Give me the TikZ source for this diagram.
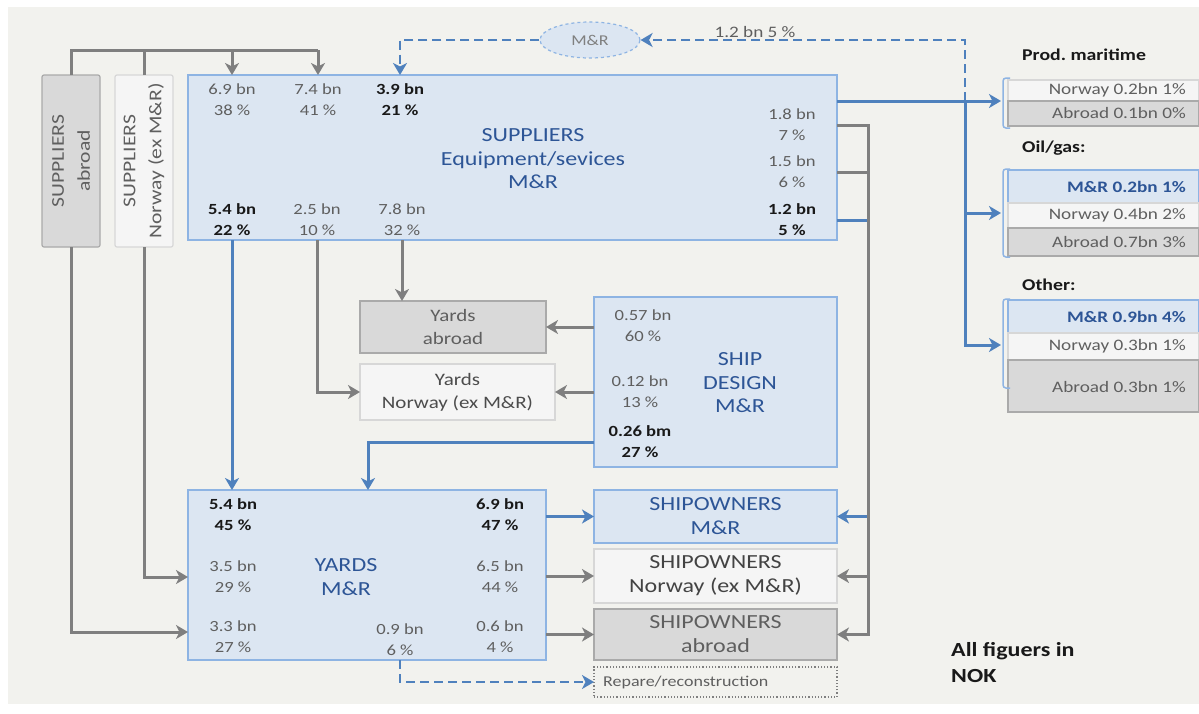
\documentclass[tikz,border=0pt]{standalone}
\usepackage{fontspec}
\setmainfont{Carlito}[FakeStretch=1.2]
\usetikzlibrary{shapes.geometric,arrows.meta}
\definecolor{bgc}{RGB}{242,242,238}
\definecolor{bfill}{RGB}{220,230,242}
\definecolor{bdraw}{RGB}{142,180,227}
\definecolor{bline}{RGB}{79,129,189}
\definecolor{gline}{RGB}{127,127,127}
\definecolor{gfill}{RGB}{217,217,217}
\definecolor{gdraw}{RGB}{170,170,170}
\definecolor{lfill}{RGB}{245,245,245}
\definecolor{ldraw}{RGB}{215,215,215}
\definecolor{tblue}{RGB}{45,85,150}
\definecolor{tgray}{RGB}{95,95,95}
\definecolor{tdark}{RGB}{25,25,25}
\tikzset{
  box/.style={rectangle, inner sep=0pt, outer sep=0pt, anchor=north west, line width=1.2pt},
  bluebox/.style={box, fill=bfill, draw=bdraw},
  graybox/.style={box, fill=gfill, draw=gdraw},
  lightbox/.style={box, fill=lfill, draw=ldraw},
  num/.style={align=center, text=tgray, font=\fontsize{15.5}{21}\selectfont, inner sep=0pt},
  numb/.style={align=center, text=tdark, font=\fontsize{15.5}{21}\selectfont\bfseries, inner sep=0pt},
  ttl/.style={align=center, text=tblue, font=\fontsize{20}{23.5}\selectfont, inner sep=0pt},
  boxtxt/.style={align=center, font=\fontsize{17.5}{23}\selectfont, inner sep=0pt},
  shtxt/.style={align=center, font=\fontsize{20}{24}\selectfont, inner sep=0pt},
  rtxt/.style={anchor=east, text=tgray, font=\fontsize{16}{18}\selectfont, inner sep=0pt},
  rtxtb/.style={anchor=east, text=tblue, font=\fontsize{16}{18}\selectfont\bfseries, inner sep=0pt},
  hdr/.style={anchor=west, text=tdark, font=\fontsize{16.5}{18}\selectfont\bfseries, inner sep=0pt},
  garrow/.style={draw=gline, line width=3pt, -{Stealth[length=12pt,width=14pt,inset=3.5pt]}},
  glin/.style={draw=gline, line width=3pt},
  barrow/.style={draw=bline, line width=3pt, -{Stealth[length=12pt,width=14pt,inset=3.5pt]}},
  blin/.style={draw=bline, line width=3pt},
  bdarrow/.style={draw=bline, line width=2.8pt, dash pattern=on 9pt off 5pt, -{Stealth[length=12pt,width=14pt,inset=3.5pt]}},
  brk/.style={draw=bdraw, line width=1.5pt, rounded corners=3pt},
}
\begin{document}
\begin{tikzpicture}[x=1pt,y=-1pt]
\fill[white] (0,0) rectangle (1199,713);
\fill[bgc] (8,7) rectangle (1199,704);
\useasboundingbox (0,0) rectangle (1199,713);

% suppliers side boxes
\node[graybox, rounded corners=2pt, minimum width=58pt, minimum height=172pt] (sab) at (42,75) {};
\node[rotate=90, boxtxt, font=\fontsize{18}{26}\selectfont, text=tgray] (sabt) at (sab.center) {SUPPLIERS\\abroad};
\node[lightbox, rounded corners=2pt, minimum width=58pt, minimum height=172pt] (snor) at (115,75) {};
\node[rotate=90, boxtxt, font=\fontsize{18}{26}\selectfont, text=tgray] (snort) at (snor.center) {SUPPLIERS\\Norway (ex M\&R)};

% suppliers main box
\node[bluebox, minimum width=649pt, minimum height=165pt] (sup) at (188,75) {};
\node[num] (s1) at (232,100) {6.9 bn\\38 \%};
\node[num] (s2) at (318,100) {7.4 bn\\41 \%};
\node[numb] (s3) at (400,100) {3.9 bn\\21 \%};
\node[ttl] (supt) at (533,159) {SUPPLIERS\\Equipment/sevices\\M\&R};
\node[num] (s4) at (792,125) {1.8 bn\\7 \%};
\node[num] (s5) at (792,172) {1.5 bn\\6 \%};
\node[numb] (s6) at (792,220) {1.2 bn\\5 \%};
\node[numb] (s7) at (232,220) {5.4 bn\\22 \%};
\node[num] (s8) at (317,220) {2.5 bn\\10 \%};
\node[num] (s9) at (402,220) {7.8 bn\\32 \%};

% M&R ellipse
\node[ellipse, draw=bdraw, dashed, fill=bfill, line width=1.2pt, minimum width=100pt, minimum height=36pt, text=gray, font=\fontsize{15}{16}\selectfont] (mr) at (590,40) {M\&R};

% yards middle
\node[graybox, minimum width=186pt, minimum height=52pt] (yab) at (360,301) {};
\node[boxtxt, text=tgray] (yabt) at (yab.center) {Yards\\abroad};
\node[lightbox, minimum width=195pt, minimum height=56pt] (yno) at (360,364) {};
\node[boxtxt, text=tgray!80!black] (ynot) at (yno.center) {Yards\\Norway (ex M\&R)};

% ship design
\node[bluebox, minimum width=243pt, minimum height=170pt] (sd) at (594,297) {};
\node[num] (d1) at (643,326) {0.57 bn\\60 \%};
\node[num] (d2) at (640,392) {0.12 bn\\13 \%};
\node[numb] (d3) at (640,442) {0.26 bm\\27 \%};
\node[ttl] (sdt) at (740,383) {SHIP\\DESIGN\\M\&R};

% yards M&R
\node[bluebox, minimum width=358pt, minimum height=170pt] (yards) at (188,490) {};
\node[numb] (y1) at (233,515) {5.4 bn\\45 \%};
\node[numb] (y2) at (500,515) {6.9 bn\\47 \%};
\node[num] (y3) at (233,577) {3.5 bn\\29 \%};
\node[ttl] (yt) at (346,577) {YARDS\\M\&R};
\node[num] (y4) at (500,577) {6.5 bn\\44 \%};
\node[num] (y5) at (233,637) {3.3 bn\\27 \%};
\node[num] (y6) at (400,640) {0.9 bn\\6 \%};
\node[num] (y7) at (500,637) {0.6 bn\\4 \%};

% shipowners
\node[bluebox, minimum width=243pt, minimum height=53pt] (shm) at (594,490) {};
\node[shtxt, text=tblue] (shmt) at (shm.center) {SHIPOWNERS\\M\&R};
\node[lightbox, minimum width=243pt, minimum height=54pt] (shn) at (594,549) {};
\node[shtxt, text=tgray!70!black] (shnt) at (shn.center) {SHIPOWNERS\\Norway (ex M\&R)};
\node[graybox, minimum width=243pt, minimum height=51pt] (sha) at (594,609) {};
\node[shtxt, text=tgray] (shat) at (sha.center) {SHIPOWNERS\\abroad};
\node[box, draw=gline, dotted, line width=1.2pt, minimum width=243pt, minimum height=30pt] (rep) at (594,667) {};
\node[anchor=west, text=tgray, font=\fontsize{15}{16}\selectfont, inner sep=0pt] (rept) at (603,682) {Repare/reconstruction};

\node[anchor=north west, align=left, text=tdark, font=\fontsize{20}{26}\selectfont\bfseries, inner sep=0pt] (note) at (951,642) {All figuers in\\NOK};

% right side groups
\node[hdr] (hpm) at (1022,55) {Prod.\ maritime};
\node[lightbox, minimum width=191pt, minimum height=21pt] (pm1) at (1008,80) {};
\node[graybox, minimum width=191pt, minimum height=25pt] (pm2) at (1008,101) {};
\node[rtxt] (pm1t) at (1186,90.5) {Norway 0.2bn 1\%};
\node[rtxt] (pm2t) at (1186,113.5) {Abroad 0.1bn 0\%};
\draw[brk] (1010,78) -- (1003,78) -- (1003,128) -- (1010,128);

\node[hdr] (hog) at (1022,148) {Oil/gas:};
\node[bluebox, minimum width=191pt, minimum height=33pt] (og1) at (1008,170) {};
\node[lightbox, minimum width=191pt, minimum height=25pt] (og2) at (1008,203) {};
\node[graybox, minimum width=191pt, minimum height=28pt] (og3) at (1008,228) {};
\node[rtxtb] (og1t) at (1186,186.5) {M\&R 0.2bn 1\%};
\node[rtxt] (og2t) at (1186,215.5) {Norway 0.4bn 2\%};
\node[rtxt] (og3t) at (1186,242) {Abroad 0.7bn 3\%};
\draw[brk] (1010,169) -- (1003,169) -- (1003,257) -- (1010,257);

\node[hdr] (hot) at (1022,285) {Other:};
\node[bluebox, minimum width=191pt, minimum height=33pt] (ot1) at (1008,300) {};
\node[lightbox, minimum width=191pt, minimum height=27pt] (ot2) at (1008,333) {};
\node[graybox, minimum width=191pt, minimum height=52pt] (ot3) at (1008,360) {};
\node[rtxtb] (ot1t) at (1186,316.5) {M\&R 0.9bn 4\%};
\node[rtxt] (ot2t) at (1186,346.5) {Norway 0.3bn 1\%};
\node[rtxt] (ot3t) at (1186,387) {Abroad 0.3bn 1\%};
\draw[brk] (1010,299) -- (1003,299) -- (1003,388) -- (1010,388);

% coordinates
\coordinate (tl) at (232,50);
\coordinate (tr) at (318,50);
\coordinate (gv) at (868,0);
\coordinate (bv) at (965,0);
\coordinate (pmin) at (1001,101);
\coordinate (ogin) at (1001,213);
\coordinate (otin) at (1001,345);

% top gray lines
\draw[glin] (sab.north) -- (sab.north |- tl) -- (tr);
\draw[glin] (snor.north) -- (snor.north |- tl);
\draw[garrow] (tl) -- (tl |- sup.north);
\draw[garrow] (tr) -- (tr |- sup.north);

% dashed M&R loop
\draw[bdarrow] (bv |- pmin) -- (bv |- mr.east) -- (mr.east);
\draw[bdarrow] (mr.west) -| (sup.north -| s3);
\node[anchor=south, text=tgray, font=\fontsize{16}{17}\selectfont, inner sep=0pt] (lbl) at (755,38) {1.2 bn 5 \%};

% right blue
\draw[barrow] (sup.east |- pmin) -- (pmin);
\draw[blin] (bv |- pmin) -- (bv |- ogin);
\draw[barrow] (bv |- ogin) -- (ogin);
\draw[barrow] (bv |- ogin) |- (otin);

% right of suppliers to shipowners
\draw[barrow] (sup.east |- s6) -| (gv |- shm.east) -- (shm.east);
\draw[garrow] (sup.east |- s4) -| (gv |- sha.east) -- (sha.east);
\draw[glin] (sup.east |- s5) -- (gv |- s5);
\draw[garrow] (gv |- shn.east) -- (shn.east);

% supplier bottom
\draw[barrow] (sup.south -| s7) -- (yards.north -| s7);
\draw[garrow] (sup.south -| s9) -- (yab.north -| s9);
\draw[garrow] (sup.south -| s8) |- (yno.west);

% ship design
\draw[garrow] (sd.west |- yab.east) -- (yab.east);
\draw[garrow] (sd.west |- yno.east) -- (yno.east);
\draw[barrow] (sd.west |- d3) -| (yards.north -| 368,0);

% side suppliers to yards
\draw[garrow] (snor.south) |- (yards.west |- y3);
\draw[garrow] (sab.south) |- (yards.west |- 0,632);

% yards to shipowners
\draw[barrow] (yards.east |- shm.west) -- (shm.west);
\draw[garrow] (yards.east |- shn.west) -- (shn.west);
\draw[garrow] (yards.east |- sha.west) -- (sha.west);
\draw[bdarrow] (yards.south -| y6) |- (rep.west);
\end{tikzpicture}
\end{document}
